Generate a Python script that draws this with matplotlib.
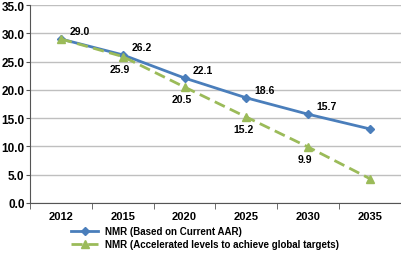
import numpy as np
import matplotlib
matplotlib.use("Agg")
from matplotlib import pyplot as plt

years = ["2012", "2015", "2020", "2025", "2030", "2035"]
nmr_current = [29.0, 26.2, 22.1, 18.6, 15.7, 13.1]
nmr_accel = [29.0, 25.9, 20.5, 15.2, 9.9, 4.3]
current_labels = ["29.0", "26.2", "22.1", "18.6", "15.7", ""]
accel_labels = ["", "25.9", "20.5", "15.2", "9.9", ""]

plt.rcParams["font.family"] = ["Liberation Sans", "DejaVu Sans"]
plt.rcParams["font.weight"] = "bold"

fig = plt.figure(figsize=(4.02, 2.55), dpi=100)
ax = fig.add_axes([0.075, 0.2, 0.922, 0.776])

x = np.arange(len(years))
blue = "#4A7EBB"
green = "#9BBB59"

ax.plot(x, nmr_current, color=blue, lw=2, marker="D", ms=4.5,
        label="NMR (Based on Current AAR)", zorder=3)
ax.plot(x, nmr_accel, color=green, lw=2, ls=(0, (4, 2)), marker="^", ms=6,
        label="NMR (Accelerated levels to achieve global targets)", zorder=4)

for i, lab in enumerate(current_labels):
    if lab:
        ax.annotate(lab, (x[i], nmr_current[i]), xytext=(6, 2),
                    textcoords="offset points", ha="left", va="bottom",
                    fontsize=7.5, fontweight="bold")
for i, lab in enumerate(accel_labels):
    if lab:
        ax.annotate(lab, (x[i], nmr_accel[i]), xytext=(-2, -5),
                    textcoords="offset points", ha="center", va="top",
                    fontsize=7.5, fontweight="bold")

ax.set_xlim(-0.5, len(years) - 0.5)
ax.set_ylim(0, 35)
ax.set_yticks(np.arange(0, 36, 5))
ax.set_yticklabels([f"{v:.1f}" for v in np.arange(0, 36, 5)], fontsize=8.5,
                   fontweight="bold")
ax.set_xticks(x)
ax.set_xticklabels(years, fontsize=8, fontweight="bold")
ax.set_xticks(np.arange(-0.5, len(years)), minor=True)
ax.tick_params(axis="x", which="major", length=0, pad=6)
ax.tick_params(axis="x", which="minor", length=4, color="#555555")
ax.tick_params(axis="y", length=3, color="#555555", pad=1)

ax.grid(axis="y", color="#BFBFBF", lw=1)
ax.set_axisbelow(True)
for s in ["top", "right"]:
    ax.spines[s].set_visible(False)
ax.spines["left"].set_color("#555555")
ax.spines["bottom"].set_color("#555555")

fig.legend(loc="lower left", bbox_to_anchor=(0.155, -0.015), frameon=False,
           handlelength=2.8, handletextpad=0.7, labelspacing=0.3,
           prop={"weight": "bold", "size": 7})

fig.savefig("out.png", dpi=100)
